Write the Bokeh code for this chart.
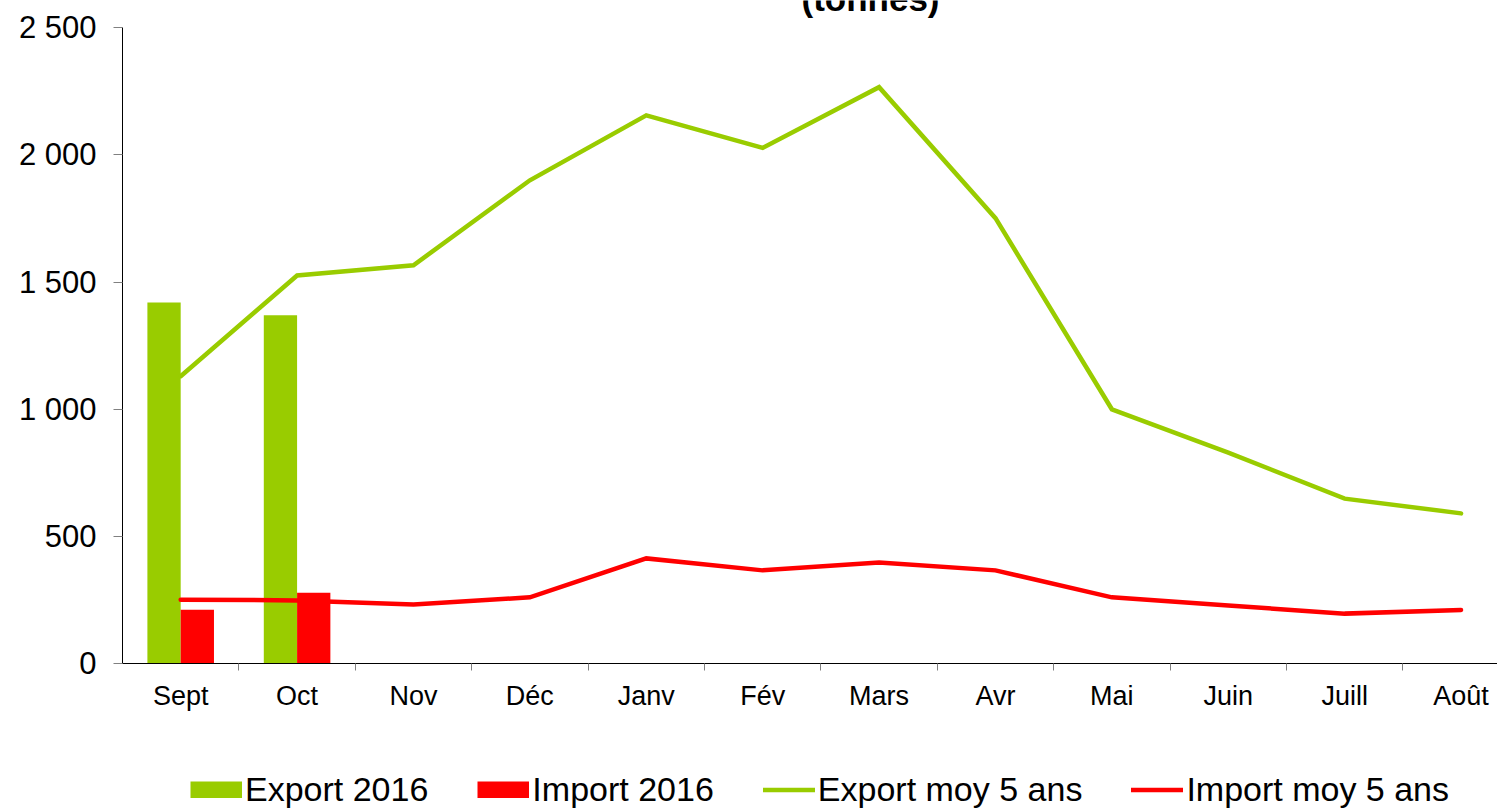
from bokeh.plotting import figure
from bokeh.models import (ColumnDataSource, Range1d, FixedTicker, Legend, LegendItem, Label)
from bokeh.transform import dodge
from bokeh.embed import file_html
from bokeh.resources import INLINE

# ---- data ----
months = ["Sept", "Oct", "Nov", "Déc", "Janv", "Fév", "Mars", "Avr", "Mai", "Juin", "Juill", "Août"]
export_2016 = [1420, 1370]
import_2016 = [212, 279]
export_moy5 = [1130, 1526, 1566, 1900, 2155, 2027, 2266, 1751, 1000, 830, 649, 591]
import_moy5 = [252, 249, 233, 261, 414, 367, 398, 367, 261, 229, 197, 211]
y_ticks = [0, 500, 1000, 1500, 2000, 2500]
y_tick_labels = ["0", "500", "1 000", "1 500", "2 000", "2 500"]

GREEN = "#99CC00"
RED = "#FF0000"
FONT = "Liberation Sans"

centers = [i + 0.5 for i in range(len(months))]
bars_src = ColumnDataSource(dict(x=centers[:len(export_2016)], exp=export_2016, imp=import_2016))
lines_src = ColumnDataSource(dict(x=centers, exp=export_moy5, imp=import_moy5))
nan = float("nan")
swatch_src = ColumnDataSource(dict(x=[nan], y=[nan]))  # legend-only, draws nothing in the plot

# frame covers the whole canvas; axes are pinned at x=0 / y=0
X0, X1 = -1.048, 11.813
Y0, Y1 = -576.7, 2606.5
p = figure(width=1497, height=810, output_backend="svg", toolbar_location=None,
           x_range=Range1d(X0, X1), y_range=Range1d(Y0, Y1), min_border=0)
p.outline_line_color = None
p.xgrid.visible = False
p.ygrid.visible = False
p.background_fill_color = "white"
p.border_fill_color = "white"

bw = 0.286
p.vbar(x=dodge("x", -bw / 2, range=p.x_range), top="exp", width=bw, bottom=0,
       source=bars_src, fill_color=GREEN, line_color=None)
p.vbar(x=dodge("x", bw / 2, range=p.x_range), top="imp", width=bw, bottom=0,
       source=bars_src, fill_color=RED, line_color=None)
r_exp_line = p.line("x", "exp", source=lines_src, line_color=GREEN, line_width=4.5,
                    line_join="miter", line_cap="round")
r_imp_line = p.line("x", "imp", source=lines_src, line_color=RED, line_width=4.5,
                    line_join="miter", line_cap="round")

# legend swatches for the bars (full-width blocks)
sw_exp = p.line("x", "y", source=swatch_src, line_color=GREEN, line_width=17, line_cap="butt")
sw_imp = p.line("x", "y", source=swatch_src, line_color=RED, line_width=17, line_cap="butt")

# y axis
yax = p.yaxis[0]
yax.fixed_location = 0
yax.ticker = FixedTicker(ticks=y_ticks, minor_ticks=[])
yax.bounds = (0, 2500)
yax.major_label_overrides = {t: l for t, l in zip(y_ticks, y_tick_labels)}
yax.major_label_text_font = FONT
yax.major_label_text_font_size = "31px"
yax.major_label_text_color = "black"
yax.axis_line_color = "black"
yax.major_tick_line_color = "#808080"
yax.major_tick_out = 9
yax.major_tick_in = 0
yax.minor_tick_out = 0
yax.minor_tick_in = 0
yax.major_label_standoff = 17

# x axis
xax = p.xaxis[0]
xax.fixed_location = 0
xax.ticker = FixedTicker(ticks=centers, minor_ticks=[float(i) for i in range(1, 12)])
xax.bounds = (0, X1)
xax.major_label_overrides = {c: m for c, m in zip(centers, months)}
xax.major_label_text_font = FONT
xax.major_label_text_font_size = "27px"
xax.major_label_text_color = "black"
xax.axis_line_color = "black"
xax.major_tick_out = 0
xax.major_tick_in = 0
xax.minor_tick_out = 7
xax.minor_tick_in = 0
xax.minor_tick_line_color = "#808080"
xax.major_label_standoff = 10

# legend
legend = Legend(items=[
    LegendItem(label="Export 2016", renderers=[sw_exp]),
    LegendItem(label="Import 2016", renderers=[sw_imp]),
    LegendItem(label="Export moy 5 ans", renderers=[r_exp_line]),
    LegendItem(label="Import moy 5 ans", renderers=[r_imp_line]),
], orientation="horizontal", location=(190, 1))
legend.label_text_font = FONT
legend.label_text_font_size = "34px"
legend.label_text_color = "black"
legend.glyph_width = 52
legend.glyph_height = 17
legend.label_standoff = 3
legend.spacing = 49
legend.padding = 0
legend.margin = 0
legend.border_line_color = None
legend.background_fill_alpha = 0
p.add_layout(legend, "center")

# title (only the bottom of its last line is visible at the top edge)
title = Label(x=870, y=812, x_units="screen", y_units="screen", text="(tonnes)",
              text_font=FONT, text_font_size="35px", text_font_style="bold",
              text_align="center", text_baseline="alphabetic", text_color="black")
p.add_layout(title)

open("out.html", "w").write(file_html(p, INLINE))
